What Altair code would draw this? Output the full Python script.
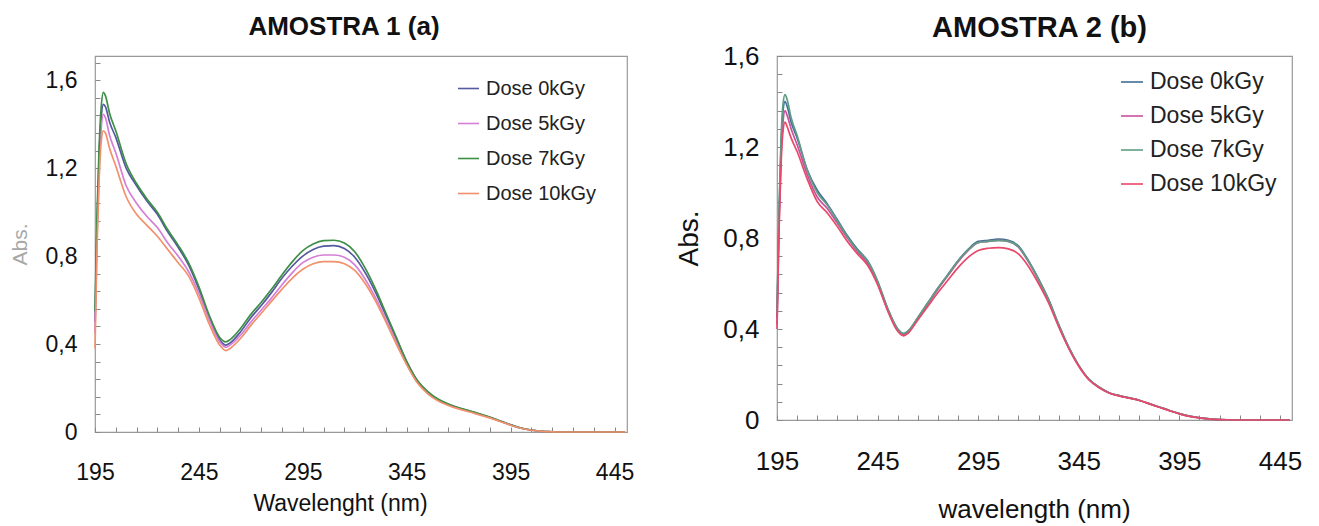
import altair as alt
import pandas as pd

doses = ["Dose 0kGy", "Dose 5kGy", "Dose 7kGy", "Dose 10kGy"]

wavelength = [195, 196, 197, 198, 199, 200, 202, 205, 210, 215, 220, 225, 230, 235,
              240, 245, 250, 255, 258, 260, 265, 270, 275, 280, 285, 290, 295, 300,
              305, 310, 315, 320, 325, 330, 335, 340, 345, 350, 355, 360, 365, 370,
              375, 380, 385, 390, 395, 400, 405, 410, 415, 420, 430, 440, 450]

# Sample 1 (a)
a_dose0 = [0.50, 0.95, 1.26, 1.43, 1.49, 1.48, 1.41, 1.34, 1.20, 1.12, 1.05, 0.99, 0.91, 0.84,
           0.76, 0.65, 0.52, 0.42, 0.395, 0.405, 0.455, 0.52, 0.575, 0.635, 0.70, 0.755, 0.80, 0.83,
           0.845, 0.848, 0.835, 0.795, 0.725, 0.635, 0.53, 0.425, 0.32, 0.235, 0.183, 0.148, 0.126, 0.11,
           0.096, 0.082, 0.067, 0.05, 0.033, 0.018, 0.009, 0.003, 0.001, 0.0, 0.0, 0.0, 0.0]
a_dose5 = [0.45, 0.90, 1.20, 1.38, 1.445, 1.43, 1.35, 1.27, 1.12, 1.04, 0.98, 0.93, 0.86, 0.80,
           0.73, 0.63, 0.51, 0.41, 0.385, 0.395, 0.44, 0.50, 0.555, 0.61, 0.67, 0.725, 0.77, 0.795,
           0.805, 0.805, 0.795, 0.76, 0.695, 0.61, 0.51, 0.41, 0.31, 0.228, 0.178, 0.145, 0.124, 0.108,
           0.094, 0.08, 0.065, 0.049, 0.032, 0.017, 0.008, 0.003, 0.001, 0.0, 0.0, 0.0, 0.0]
a_dose7 = [0.55, 1.00, 1.30, 1.48, 1.545, 1.53, 1.45, 1.37, 1.22, 1.13, 1.06, 1.00, 0.92, 0.85,
           0.77, 0.66, 0.53, 0.43, 0.41, 0.42, 0.47, 0.535, 0.59, 0.65, 0.715, 0.775, 0.825, 0.855,
           0.87, 0.872, 0.86, 0.82, 0.745, 0.65, 0.54, 0.43, 0.32, 0.235, 0.185, 0.15, 0.127, 0.11,
           0.096, 0.083, 0.068, 0.05, 0.033, 0.018, 0.009, 0.003, 0.001, 0.0, 0.0, 0.0, 0.0]
a_dose10 = [0.38, 0.85, 1.15, 1.32, 1.37, 1.36, 1.29, 1.21, 1.07, 0.99, 0.94, 0.89, 0.83, 0.77,
            0.71, 0.61, 0.49, 0.395, 0.37, 0.38, 0.425, 0.485, 0.54, 0.595, 0.65, 0.70, 0.74, 0.765,
            0.775, 0.775, 0.765, 0.735, 0.675, 0.595, 0.50, 0.40, 0.305, 0.225, 0.175, 0.142, 0.121, 0.105,
            0.092, 0.078, 0.064, 0.048, 0.031, 0.017, 0.008, 0.003, 0.001, 0.0, 0.0, 0.0, 0.0]

# Sample 2 (b)
b_dose0 = [0.45, 0.90, 1.20, 1.36, 1.40, 1.38, 1.31, 1.24, 1.10, 1.01, 0.95, 0.88, 0.81, 0.75,
           0.70, 0.61, 0.49, 0.40, 0.38, 0.39, 0.45, 0.515, 0.58, 0.64, 0.70, 0.75, 0.785, 0.79,
           0.795, 0.79, 0.765, 0.70, 0.62, 0.53, 0.42, 0.32, 0.24, 0.18, 0.145, 0.12, 0.107, 0.097,
           0.087, 0.072, 0.057, 0.042, 0.028, 0.017, 0.01, 0.005, 0.002, 0.001, 0.0, 0.0, 0.0]
b_dose5 = [0.42, 0.86, 1.16, 1.31, 1.36, 1.34, 1.28, 1.21, 1.08, 0.98, 0.93, 0.865, 0.80, 0.74,
           0.69, 0.60, 0.485, 0.395, 0.375, 0.385, 0.445, 0.51, 0.575, 0.635, 0.695, 0.745, 0.78, 0.785,
           0.79, 0.785, 0.76, 0.695, 0.615, 0.525, 0.415, 0.318, 0.238, 0.178, 0.144, 0.12, 0.107, 0.097,
           0.087, 0.072, 0.057, 0.042, 0.028, 0.017, 0.01, 0.005, 0.002, 0.001, 0.0, 0.0, 0.0]
b_dose7 = [0.47, 0.92, 1.23, 1.39, 1.43, 1.41, 1.33, 1.25, 1.10, 1.00, 0.945, 0.875, 0.805, 0.745,
           0.70, 0.61, 0.49, 0.40, 0.38, 0.39, 0.45, 0.515, 0.58, 0.64, 0.70, 0.748, 0.78, 0.785,
           0.79, 0.785, 0.762, 0.698, 0.618, 0.528, 0.418, 0.32, 0.24, 0.18, 0.145, 0.12, 0.107, 0.097,
           0.087, 0.072, 0.057, 0.042, 0.028, 0.017, 0.01, 0.005, 0.002, 0.001, 0.0, 0.0, 0.0]
b_dose10 = [0.40, 0.83, 1.12, 1.27, 1.31, 1.29, 1.24, 1.18, 1.06, 0.96, 0.91, 0.85, 0.785, 0.73,
            0.68, 0.595, 0.48, 0.39, 0.37, 0.38, 0.44, 0.50, 0.56, 0.615, 0.67, 0.715, 0.745, 0.755,
            0.758, 0.752, 0.73, 0.675, 0.60, 0.515, 0.41, 0.315, 0.236, 0.177, 0.143, 0.119, 0.106, 0.096,
            0.086, 0.071, 0.056, 0.041, 0.027, 0.016, 0.009, 0.004, 0.002, 0.001, 0.0, 0.0, 0.0]

colors_a = ["#55599f", "#d67fd6", "#3d8f46", "#f2906c"]
colors_b = ["#3f6f96", "#c8509e", "#5f9e84", "#e8486a"]

x_tick_values = [195, 205, 215, 225, 235, 245, 255, 265, 275, 285, 295, 305, 315, 325, 335,
                 345, 355, 365, 375, 385, 395, 405, 415, 425, 435, 445]
y_tick_values = [0, 0.08, 0.16, 0.24, 0.32, 0.4, 0.48, 0.56, 0.64, 0.72, 0.8, 0.88, 0.96,
                 1.04, 1.12, 1.2, 1.28, 1.36, 1.44, 1.52, 1.6, 1.68]

FONT = "Liberation Sans"


def long_table(series):
    rows = []
    for dose, vals in zip(doses, series):
        for w, v in zip(wavelength, vals):
            rows.append({"wl": w, "abs": v, "dose": dose})
    return pd.DataFrame(rows)


x_label_expr = "(datum.value - 195) % 50 == 0 ? datum.label : ''"
y_label_expr = ("abs(datum.value * 2.5 - round(datum.value * 2.5)) < 0.01 ? "
                "(datum.value == 0 ? '0' : replace(format(datum.value, '.1f'), '.', ',')) : ''")


def panel(df, colors, title, title_size, title_dx, title_offset,
          tick_size, xlab_pad, xtitle, xtitle_size, xtitle_x, xtitle_pad,
          ylab_pad, ytitle, ytitle_color, ytitle_size, ytitle_pad,
          ymax, w, h, lx, ly, lsize, lrow, lsym):
    yvals = [v for v in y_tick_values if v <= ymax + 1e-9]
    return alt.Chart(df).mark_line(strokeWidth=1.7, interpolate="monotone").encode(
        x=alt.X("wl:Q",
                scale=alt.Scale(domain=[195, 451], nice=False, zero=False),
                axis=alt.Axis(values=x_tick_values, labelExpr=x_label_expr, title=xtitle,
                              tickSize=5, offset=-5, domain=False, grid=False,
                              tickColor="#888888", labelFontSize=tick_size, labelPadding=xlab_pad,
                              labelFont=FONT, labelColor="#111111", labelFlush=False,
                              titleFont=FONT, titleFontSize=xtitle_size, titleFontWeight="normal",
                              titleColor="#111111", titlePadding=xtitle_pad, titleX=xtitle_x)),
        y=alt.Y("abs:Q",
                scale=alt.Scale(domain=[0, ymax], nice=False, zero=True),
                axis=alt.Axis(values=yvals, labelExpr=y_label_expr, title=ytitle,
                              tickSize=5, offset=-5, domain=False, grid=False,
                              tickColor="#888888", labelFontSize=tick_size, labelPadding=ylab_pad,
                              labelFont=FONT, labelColor="#111111", labelFlush=False,
                              titleFont=FONT, titleFontSize=ytitle_size, titleFontWeight="normal",
                              titleColor=ytitle_color, titlePadding=ytitle_pad)),
        color=alt.Color("dose:N", sort=doses,
                        scale=alt.Scale(domain=doses, range=colors),
                        legend=alt.Legend(title=None, orient="none", legendX=lx, legendY=ly,
                                          symbolType="stroke", symbolSize=lsym * lsym,
                                          symbolStrokeWidth=1.6, labelFontSize=lsize,
                                          labelFont=FONT, labelColor="#222222",
                                          labelOffset=6, rowPadding=lrow, padding=0)),
    ).properties(
        width=w, height=h,
        title=alt.TitleParams(title, font=FONT, fontSize=title_size, fontWeight="bold",
                              color="#111111", anchor="middle", frame="group",
                              dx=title_dx, offset=title_offset),
    )


left = panel(long_table([a_dose0, a_dose5, a_dose7, a_dose10]), colors_a,
             "AMOSTRA 1 (a)", 26, -17, 16,
             23, 29, "Wavelenght (nm)", 23, 245, 8,
             18, "Abs.", "#a8a8a8", 21, 15,
             1.71, 532, 376, 362, 21, 20, 13, 21)
right = panel(long_table([b_dose0, b_dose5, b_dose7, b_dose10]), colors_b,
              "AMOSTRA 2 (b)", 29, 5, 0,
              26, 28, "wavelength (nm)", 26, 257, 22,
              18, "Abs.", "#111111", 28, 19,
              1.6, 515, 364, 343, 14, 23, 10, 22)

chart = alt.hconcat(left, right, spacing=40).resolve_scale(color="independent").configure(
    padding={"top": 5, "left": 0, "right": 0, "bottom": 0}
).configure_view(stroke="#999999", strokeWidth=1.2)

chart.save("out.html", embed_options={"renderer": "svg", "actions": False})
